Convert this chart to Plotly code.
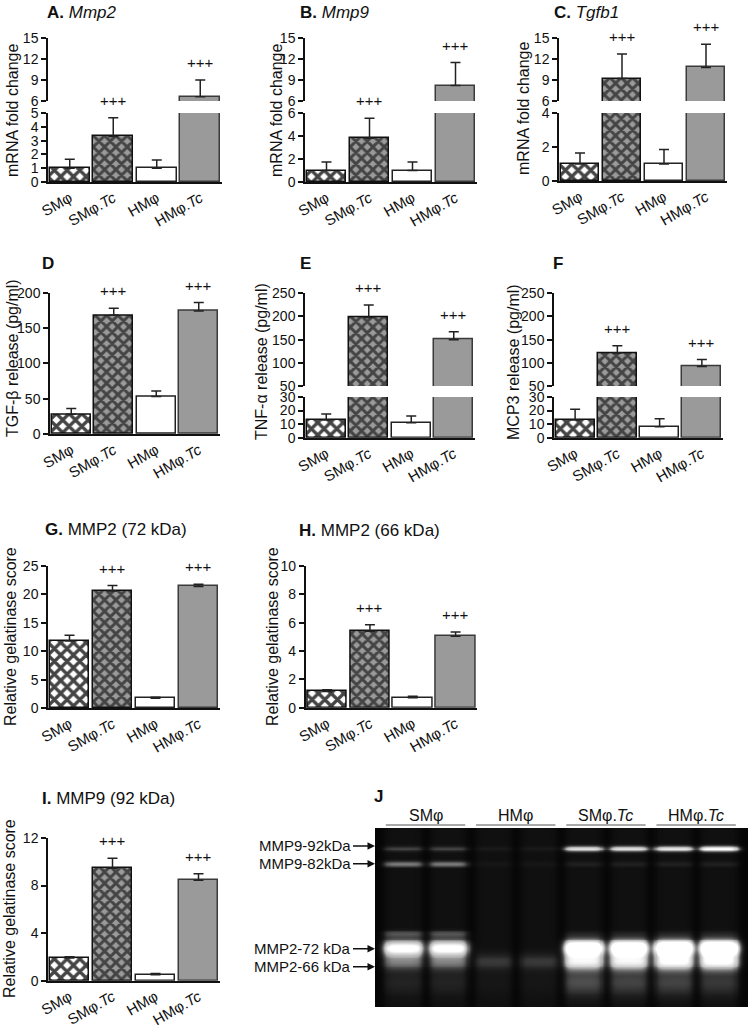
import numpy as np
import plotly.graph_objects as go

W, H = 750, 1034
FONT = "Liberation Sans, Arial, sans-serif"

# ---------------- data ----------------
groups = ["SMφ", "SMφ.<i>Tc</i>", "HMφ", "HMφ.<i>Tc</i>"]
sig = ["", "+++", "", "+++"]

mmp2_mrna = [1.0, 3.3, 1.0, 6.6]
mmp2_mrna_sem = [0.65, 1.35, 0.6, 2.4]
mmp9_mrna = [1.0, 3.8, 1.0, 8.2]
mmp9_mrna_sem = [0.75, 1.75, 0.75, 3.3]
tgfb1_mrna = [1.0, 9.2, 1.0, 10.8]
tgfb1_mrna_sem = [0.65, 3.5, 0.85, 3.3]

tgfb_release = [28, 168, 53, 174]
tgfb_release_sem = [8, 10, 8, 12]
tnfa_release = [13, 198, 11, 150]
tnfa_release_sem = [4.5, 27, 5, 17]
mcp3_release = [13, 121, 8, 92]
mcp3_release_sem = [8, 16, 6, 15]

mmp2_72 = [11.8, 20.6, 1.7, 21.4]
mmp2_72_sem = [1.0, 0.95, 0.2, 0.4]
mmp2_66 = [1.15, 5.4, 0.7, 5.05]
mmp2_66_sem = [0.12, 0.45, 0.1, 0.3]
mmp9_92 = [1.9, 9.45, 0.5, 8.45]
mmp9_92_sem = [0.12, 0.85, 0.1, 0.55]

# zymography gel (8 lanes), relative band intensities
gel_groups = ["SMφ", "HMφ", "SMφ.<i>Tc</i>", "HMφ.<i>Tc</i>"]
gel_band_labels = ["MMP9-92kDa", "MMP9-82kDa", "MMP2-72 kDa", "MMP2-66 kDa"]
gel_mmp9_92 = [0.15, 0.15, 0.03, 0.03, 0.75, 0.75, 0.8, 1.0]
gel_mmp9_82 = [0.3, 0.3, 0.02, 0.02, 0.05, 0.05, 0.05, 0.05]
gel_mmp2_72 = [1.1, 1.1, 0.0, 0.0, 1.7, 1.7, 1.9, 1.9]
gel_mmp2_66 = [0.3, 0.3, 0.12, 0.12, 0.85, 0.85, 0.95, 0.95]
gel_extra_upper = [0.18, 0.18, 0.0, 0.0, 0.04, 0.04, 0.04, 0.04]
gel_smear_lower = [0.06, 0.06, 0.02, 0.02, 0.18, 0.15, 0.15, 0.12]

# ---------------- helpers ----------------
def X(px):
    return px / W

def Y(py):
    return 1 - py / H

fig = go.Figure()
layout = {}
annotations = []
shapes = []

fills = dict(
    shape=["x", "x", "", ""],
    bgcolor=["#ffffff", "#9a9a9a", "#ffffff", "#9a9a9a"],
    fgcolor=["#000000", "#000000", "#ffffff", "#9a9a9a"],
    fgopacity=1,
    size=[9, 8, 8, 8],
    solidity=[0.6, 0.6, 0.3, 0.3],
)
line_cols = ["#111", "#111", "#222", "#3a3a3a"]

axis_counter = {"x": 0, "y": 0}

def new_axis(kind):
    axis_counter[kind] += 1
    return axis_counter[kind]

def yaxis_style(rng, dtick, domain, xname, tickfont=14):
    return dict(
        domain=domain, range=rng, dtick=dtick, tick0=0, anchor=xname,
        showline=True, linecolor="#111", linewidth=1.5, automargin=False,
        ticks="outside", ticklen=5, tickwidth=1.5, tickcolor="#111",
        showgrid=False, zeroline=False,
        tickfont=dict(family=FONT, size=tickfont, color="#111"),
    )

def bar_panel(values, sem, xpx, segments, title_text, title_pos, ytitle, ytitle_pos, tickfont=14):
    """segments: list of (range, dtick, top_px, bottom_px), lower first."""
    xn = new_axis("x")
    xname = "x" if xn == 1 else f"x{xn}"
    ynums = [new_axis("y") for _ in segments]
    ynames = ["y" if n == 1 else f"y{n}" for n in ynums]
    layout["xaxis" if xn == 1 else f"xaxis{xn}"] = dict(
        domain=[X(xpx[0]), X(xpx[1])], range=[-0.5, 3.5], anchor=ynames[0],
        showline=True, linecolor="#111", linewidth=1.5, ticks="", automargin=False,
        tickvals=[0, 1, 2, 3], ticktext=groups, tickangle=-30,
        showgrid=False, zeroline=False,
        tickfont=dict(family=FONT, size=15, color="#111"),
    )
    tops = [v + s for v, s in zip(values, sem)]
    nseg = len(segments)
    for k, ((rng, dtick, top_px, bot_px), yname, yn) in enumerate(zip(segments, ynames, ynums)):
        layout["yaxis" if yn == 1 else f"yaxis{yn}"] = yaxis_style(
            rng, dtick, [Y(bot_px), Y(top_px)], xname, tickfont)
        lo, hi = rng
        err = []
        for v, s in zip(values, sem):
            in_seg = (v + s <= hi or k == nseg - 1) and (v + s >= lo or k == 0)
            err.append(s if in_seg else 0)
        fig.add_trace(go.Bar(
            x=[0, 1, 2, 3], y=values, width=0.92, xaxis=xname, yaxis=yname,
            marker=dict(color=fills["bgcolor"], pattern=fills,
                        line=dict(color=line_cols, width=1.5)),
            error_y=dict(type="data", symmetric=False, array=err,
                         arrayminus=[0, 0, 0, 0], color="#222",
                         thickness=1.5, width=5),
            hoverinfo="skip",
        ))
    # significance marks
    for i, (t, s) in enumerate(zip(tops, sig)):
        if not s:
            continue
        k = 0
        for j, (rng, *_r) in enumerate(segments):
            if t >= rng[0]:
                k = j
        annotations.append(dict(
            x=i, y=t, xref=xname, yref=ynames[k], text=s, showarrow=False,
            yanchor="bottom", yshift=7,
            font=dict(family=FONT, size=15, color="#111")))
    # panel title
    annotations.append(dict(
        x=X(title_pos[0]), y=Y(title_pos[1]), xref="paper", yref="paper",
        text=title_text, showarrow=False, xanchor="left", yanchor="middle",
        font=dict(family=FONT, size=17, color="#111")))
    # y title
    annotations.append(dict(
        x=X(ytitle_pos[0]), y=Y(ytitle_pos[1]), xref="paper", yref="paper",
        text=ytitle, showarrow=False, textangle=-90, xanchor="center",
        yanchor="middle", font=dict(family=FONT, size=16, color="#111")))

# ---------------- row 1: mRNA ----------------
bar_panel(mmp2_mrna, mmp2_mrna_sem, (48, 222),
          [([0, 5], 1, 113, 182), ([6, 15], 3, 38, 101)],
          "<b>A.</b> <i>Mmp2</i>", (45, 12), "mRNA fold change", (12, 110))
bar_panel(mmp9_mrna, mmp9_mrna_sem, (305, 477),
          [([0, 6], 2, 113, 182), ([6, 15], 3, 38, 101)],
          "<b>B.</b> <i>Mmp9</i>", (298, 12), "mRNA fold change", (276, 110))
bar_panel(tgfb1_mrna, tgfb1_mrna_sem, (559, 727),
          [([0, 4], 2, 113, 181), ([6, 15], 3, 38, 101)],
          "<b>C.</b> <i>Tgfb1</i>", (552, 12), "mRNA fold change", (523, 108))

# ---------------- row 2: release ----------------
bar_panel(tgfb_release, tgfb_release_sem, (50, 220),
          [([0, 200], 50, 292.7, 434)],
          "<b>D</b>", (40, 264), "TGF-β release (pg/ml)", (12, 358))
bar_panel(tnfa_release, tnfa_release_sem, (305, 475),
          [([0, 30], 10, 397, 437.7), ([50, 250], 50, 293.3, 386)],
          "<b>E</b>", (298, 264), "TNF-α release (pg/ml)", (262, 362))
bar_panel(mcp3_release, mcp3_release_sem, (554, 723),
          [([0, 30], 10, 397, 437.7), ([50, 250], 50, 293.3, 386)],
          "<b>F</b>", (551, 264), "MCP3 release (pg/ml)", (514, 362))

# ---------------- row 3/4: gelatinase ----------------
bar_panel(mmp2_72, mmp2_72_sem, (48, 220),
          [([0, 25], 5, 566, 708)],
          "<b>G.</b> MMP2 (72 kDa)", (43, 529), "Relative gelatinase score", (10, 637))
bar_panel(mmp2_66, mmp2_66_sem, (305.7, 477),
          [([0, 10], 2, 566, 707.7)],
          "<b>H.</b> MMP2 (66 kDa)", (297, 530), "Relative gelatinase score", (272, 637))
bar_panel(mmp9_92, mmp9_92_sem, (48, 220),
          [([0, 12], 4, 838, 980.7)],
          "<b>I.</b> MMP9 (92 kDa)", (40, 798), "Relative gelatinase score", (9, 909))

# ---------------- J: gel ----------------
gx0, gx1, gy0, gy1 = 375, 748, 828, 1007
lane_range = [-0.62, 7.65]
band_rows = [gel_mmp9_92, gel_mmp9_82, gel_mmp2_72, gel_mmp2_66, gel_extra_upper, gel_smear_lower]
band_pos = [11.5, 20.0, 67.0, 74.5, 59.0, 86.0]
band_sigma = [1.0, 1.0, 2.8, 3.0, 1.3, 5.0]

xs = np.linspace(lane_range[0], lane_range[1], 360)
ys = np.linspace(0, 100, 200)
XX, YY = np.meshgrid(xs, ys)
z = np.full_like(XX, 0.015)
for li in range(8):
    prof = 1.0 / (1.0 + np.exp((np.abs(XX - li) - 0.4) / 0.045))
    z += 0.035 * prof
    for row, pos, sg in zip(band_rows, band_pos, band_sigma):
        z += row[li] * prof * np.exp(-0.5 * ((YY - pos) / sg) ** 2)

xn = new_axis("x")
yn = new_axis("y")
xg, yg = f"x{xn}", f"y{yn}"
layout[f"xaxis{xn}"] = dict(domain=[X(gx0), X(gx1)], range=lane_range, anchor=yg,
                           visible=False, showgrid=False, zeroline=False, automargin=False)
layout[f"yaxis{yn}"] = dict(domain=[Y(gy1), Y(gy0)], range=[100, 0], anchor=xg,
                           visible=False, showgrid=False, zeroline=False, automargin=False)
fig.add_trace(go.Heatmap(
    x=xs, y=ys, z=z, xaxis=xg, yaxis=yg, zmin=0, zmax=1, showscale=False,
    zsmooth="best", hoverinfo="skip",
    colorscale=[[0, "#000000"], [0.12, "#262626"], [0.5, "#b0b0b0"], [1, "#ffffff"]],
))

for gi, g in enumerate(gel_groups):
    c = gi * 2 + 0.5
    annotations.append(dict(x=c, y=Y(815), xref=xg, yref="paper", text=g,
                            showarrow=False, xanchor="center", yanchor="middle",
                            font=dict(family=FONT, size=16, color="#111")))
    shapes.append(dict(type="line", xref=xg, yref="paper", x0=c - 0.88, x1=c + 0.88,
                       y0=Y(825), y1=Y(825), line=dict(color="#555", width=1.2)))

label_pos = [10.0, 20.0, 67.5, 77.5]
for lab, pos in zip(gel_band_labels, label_pos):
    annotations.append(dict(
        x=lane_range[0], y=pos, xref=xg, yref=yg, text=lab, showarrow=True,
        ax=-22, ay=0, xanchor="right", arrowhead=2, arrowsize=1, arrowwidth=1.5,
        arrowcolor="#111", standoff=0,
        font=dict(family=FONT, size=15, color="#111")))

annotations.append(dict(x=X(372), y=Y(796), xref="paper", yref="paper", text="<b>J</b>",
                        showarrow=False, xanchor="left", yanchor="middle",
                        font=dict(family=FONT, size=17, color="#111")))

fig.update_layout(
    width=W, height=H, margin=dict(l=0, r=0, t=0, b=0, autoexpand=False),
    paper_bgcolor="white", plot_bgcolor="white", showlegend=False,
    bargap=0, annotations=annotations, shapes=shapes,
    font=dict(family=FONT, color="#111"),
    **layout,
)
fig.write_html(
    "out.html",
    config={"displayModeBar": False},
    post_script="document.body.style.margin='0';document.body.style.overflow='hidden';",
)
